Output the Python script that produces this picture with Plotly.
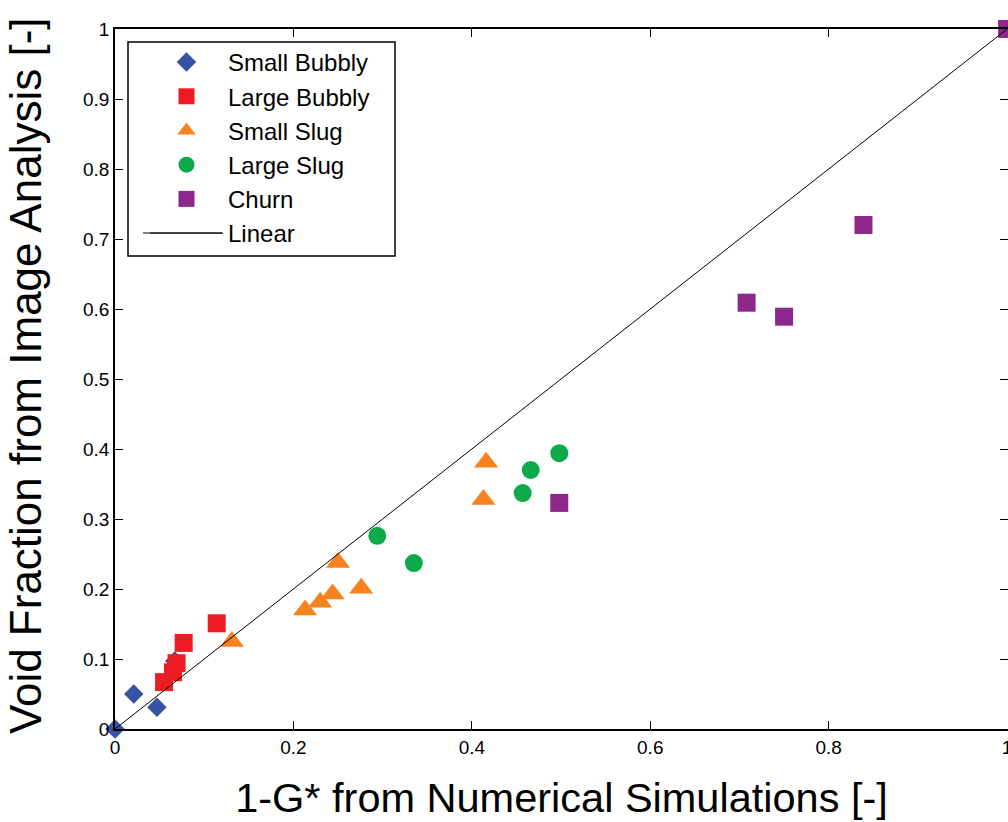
import plotly.graph_objects as go

# ---- data ----
small_bubbly_x = [0.0, 0.021, 0.047, 0.067]
small_bubbly_y = [0.0, 0.050, 0.031, 0.097]

large_bubbly_x = [0.114, 0.077, 0.069, 0.065, 0.055]
large_bubbly_y = [0.151, 0.123, 0.094, 0.081, 0.067]

small_slug_x = [0.131, 0.213, 0.230, 0.244, 0.276, 0.250, 0.416, 0.413]
small_slug_y = [0.125, 0.170, 0.181, 0.193, 0.201, 0.238, 0.381, 0.328]

large_slug_x = [0.294, 0.335, 0.466, 0.457, 0.498]
large_slug_y = [0.276, 0.237, 0.370, 0.337, 0.394]

churn_x = [0.498, 0.708, 0.750, 0.839, 1.0]
churn_y = [0.323, 0.609, 0.589, 0.720, 1.0]

linear_x = [0.0, 1.0]
linear_y = [0.0, 1.0]

x_ticks = [0, 0.2, 0.4, 0.6, 0.8, 1.0]
x_ticklabels = ["0", "0.2", "0.4", "0.6", "0.8", "1"]
y_ticks = [0, 0.1, 0.2, 0.3, 0.4, 0.5, 0.6, 0.7, 0.8, 0.9, 1.0]
y_ticklabels = ["0", "0.1", "0.2", "0.3", "0.4", "0.5", "0.6", "0.7", "0.8", "0.9", "1"]

FONT = "Liberation Sans, Arial, Helvetica, sans-serif"

# plot area geometry in pixels (for placing non-data decorations)
L, T, W, H = 115, 29, 893, 700
def px(xp):
    return (xp - L) / W
def py(yp):
    return (T + H - yp) / H

fig = go.Figure()

def add_pts(name, xs, ys, symbol, color, size, grp):
    fig.add_trace(go.Scatter(
        x=xs, y=ys, mode="markers", name=name, legendgroup=grp,
        marker=dict(symbol=symbol, color=color, size=size, line=dict(width=0)),
        cliponaxis=False,
    ))

add_pts("Small Bubbly", small_bubbly_x, small_bubbly_y, "diamond", "rgb(57,83,164)", 15, "a")
add_pts("Large Bubbly", large_bubbly_x, large_bubbly_y, "square", "rgb(237,28,36)", 18, "b")
add_pts("Small Slug", small_slug_x, small_slug_y, "triangle-up", "rgb(247,130,32)", 21, "c")
add_pts("Large Slug", large_slug_x, large_slug_y, "circle", "rgb(13,170,75)", 18, "d")
add_pts("Churn", churn_x, churn_y, "square", "rgb(142,39,140)", 18, "e")

fig.add_trace(go.Scatter(
    x=linear_x, y=linear_y, mode="lines", name="Linear", legendgroup="f",
    line=dict(color="black", width=1),
))

axis_common = dict(
    showgrid=False, zeroline=False, showline=True, linecolor="black", linewidth=1.5,
    mirror="ticks", ticks="inside", ticklen=8, tickwidth=1, tickcolor="black",
    tickfont=dict(family=FONT, size=19, color="black"),
)

fig.update_xaxes(range=[0, 1.001], tickvals=x_ticks, ticktext=x_ticklabels,
                 ticklabeloverflow="allow",
                 title=dict(text="1-G* from Numerical Simulations [-]", standoff=26,
                            font=dict(family=FONT, size=41.5, color="black")),
                 **axis_common)
fig.update_yaxes(range=[0, 1], tickvals=y_ticks, ticktext=y_ticklabels, **axis_common)

fig.update_layout(
    width=1008, height=822,
    margin=dict(l=L, r=0, t=T, b=822 - T - H, autoexpand=False),
    paper_bgcolor="white", plot_bgcolor="white",
    font=dict(family=FONT, color="black"),
    showlegend=True,
    legend=dict(
        x=px(145), y=py(40), xanchor="left", yanchor="top",
        bgcolor="rgba(0,0,0,0)", borderwidth=0,
        font=dict(family=FONT, size=24, color="black"),
        tracegroupgap=0, itemwidth=73,
    ),
    shapes=[
        # legend frame
        dict(type="rect", xref="paper", yref="paper",
             x0=px(128), x1=px(395), y0=py(256), y1=py(42),
             line=dict(color="black", width=1.5), fillcolor="white", layer="above"),
        # legend glyph for the "Linear" entry (long line as in reference)
        dict(type="line", xref="paper", yref="paper",
             x0=px(143), x1=px(222), y0=py(233), y1=py(233),
             line=dict(color="black", width=1), layer="above"),
    ],
    annotations=[
        dict(text="Void Fraction from Image Analysis [-]", xref="paper", yref="paper",
             x=px(26), y=py(376), xanchor="center", yanchor="middle", showarrow=False,
             textangle=-90, font=dict(family=FONT, size=44, color="black")),
    ],
)

fig.write_html("out.html")
